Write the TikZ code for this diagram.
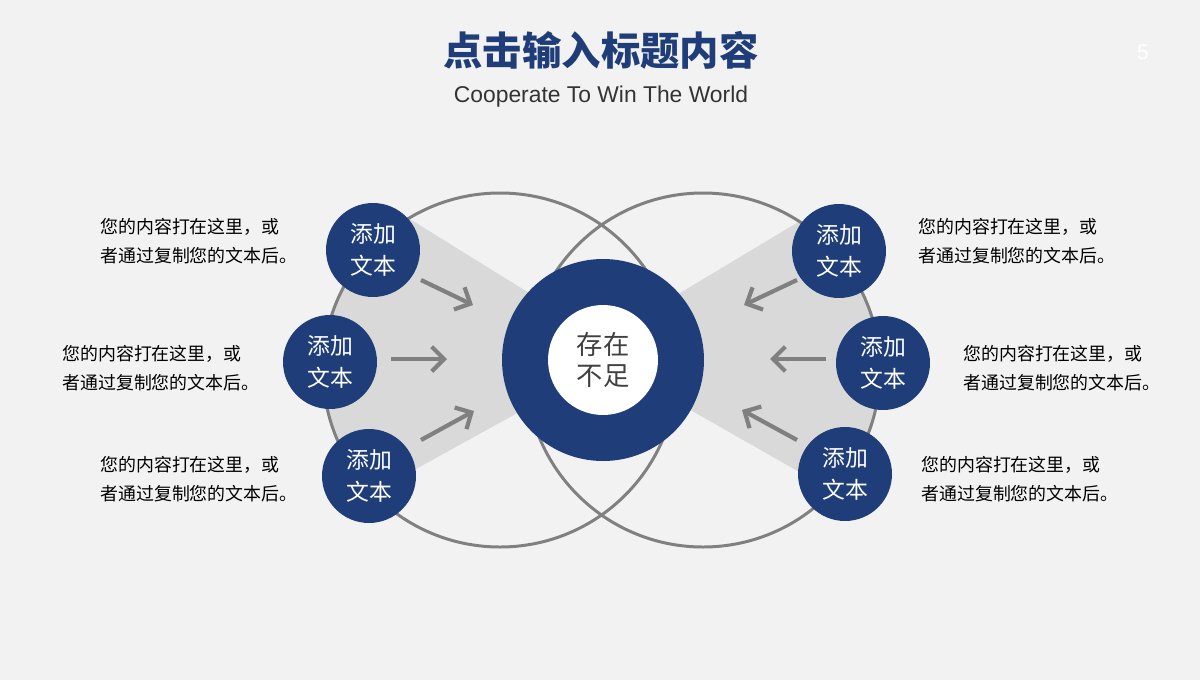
\documentclass[tikz,border=0pt]{standalone}
\usepackage{fontspec}
\setmainfont{Liberation Sans}
\newfontfamily\cjk{Noto Sans CJK SC}
\usetikzlibrary{arrows.meta}
\definecolor{navy}{HTML}{1F3E79}
\definecolor{ringgray}{HTML}{808080}
\definecolor{fangray}{HTML}{D9D9D9}
\definecolor{bggray}{HTML}{F2F2F2}
\def\Rbig{177}
\def\Rring{101}
\def\note{您的内容打在这里，或\\者通过复制您的文本后。}
\def\topictext{添加\\文本}
\tikzset{
  bigcircle/.style={draw=ringgray, line width=1.7pt},
  topic/.style={circle, fill=navy, minimum size=1.88cm, inner sep=0pt, text=white,
    align=center, font=\cjk\fontsize{13}{18}\selectfont},
  note/.style={anchor=west, align=left, inner sep=0pt, text=black,
    font=\cjk\fontsize{10.2}{16.4}\selectfont},
  push/.style={draw=ringgray, line width=2.4pt, -{Straight Barb[length=7pt,width=14pt]}}
}
\begin{document}
\begin{tikzpicture}[x=0.02cm, y=-0.02cm]
    % Page and headings
    \fill[bggray] (0,0) rectangle (1200,680);
    \useasboundingbox (0,0) rectangle (1200,680);
    \node[text=navy, font=\cjk\bfseries\fontsize{22.4}{26}\selectfont] (title) at (601,50) {点击输入标题内容};
    \node[text=black!80, font=\fontsize{13}{15}\selectfont] (subtitle) at (601,97) {Cooperate To Win The World};
    \node[text=white, font=\fontsize{12}{14}\selectfont] (page) at (1143,52) {5};
    % Shaded fans inside the two big circles
    \begin{scope}
        \clip (500,370) circle (\Rbig);
        \fill[fangray] (626,353) -- (300,151) -- (300,533) -- cycle;
    \end{scope}
    \begin{scope}
        \clip (703,370) circle (\Rbig);
        \fill[fangray] (585,350) -- (910,155) -- (910,535) -- cycle;
    \end{scope}
    % The two big circles
    \draw[bigcircle] (500,370) circle (\Rbig);
    \draw[bigcircle] (703,370) circle (\Rbig);
    % Arrow end points
    \coordinate (lt0) at (421,280);  \coordinate (lt1) at (473,305);
    \coordinate (lm0) at (391,359);  \coordinate (lm1) at (447,359);
    \coordinate (lb0) at (421,440);  \coordinate (lb1) at (474,411);
    \coordinate (rt0) at (797,280);  \coordinate (rt1) at (744,305);
    \coordinate (rm0) at (826,359);  \coordinate (rm1) at (770,359);
    \coordinate (rb0) at (797,440);  \coordinate (rb1) at (742,410);
    \draw[push] (lt0) -- (lt1);
    \draw[push] (lm0) -- (lm1);
    \draw[push] (lb0) -- (lb1);
    \draw[push] (rt0) -- (rt1);
    \draw[push] (rm0) -- (rm1);
    \draw[push] (rb0) -- (rb1);
    % Centre ring
    \fill[navy] (603,360) circle (\Rring);
    \node[circle, fill=white, minimum size=2.2cm, inner sep=0pt, align=center, text=black!75,
          font=\cjk\fontsize{15}{17.6}\selectfont] (core) at (603,360) {存在\\不足};
    % Topic circles
    \node[topic] (tl) at (373,250) {\topictext};
    \node[topic] (ml) at (330,362) {\topictext};
    \node[topic] (bl) at (369,476) {\topictext};
    \node[topic] (tr) at (839,251) {\topictext};
    \node[topic] (mr) at (883,363) {\topictext};
    \node[topic] (br) at (845,474) {\topictext};
    % Notes
    \node[note] (ntl) at (100,241) {\note};
    \node[note] (nml) at (62,368)  {\note};
    \node[note] (nbl) at (100,479) {\note};
    \node[note] (ntr) at (918,241) {\note};
    \node[note] (nmr) at (963,368) {\note};
    \node[note] (nbr) at (921,479) {\note};
\end{tikzpicture}
\end{document}
